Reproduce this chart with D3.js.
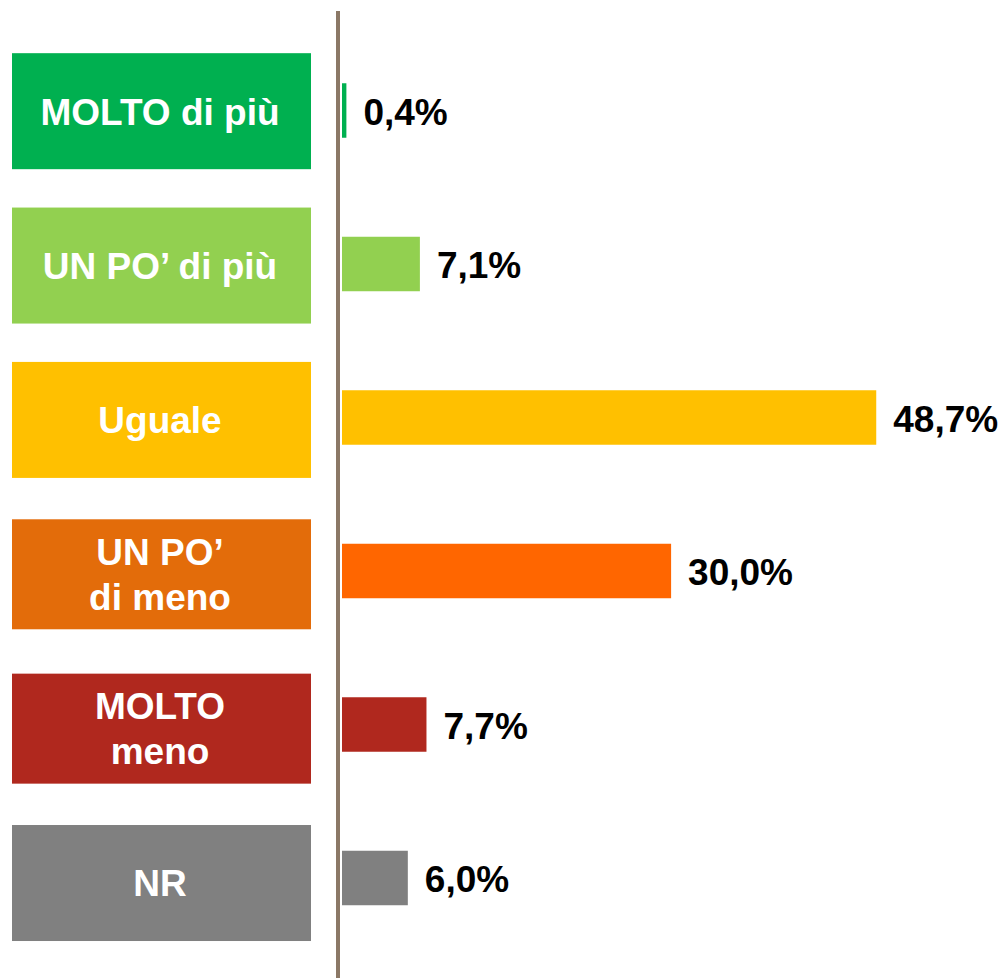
<!DOCTYPE html>
<meta charset="utf-8">
<title>MOLTO di più / meno</title>
<style>
body { margin: 0; background: #fff; }
svg { display: block; }
.box text, .value {
  font-family: "Liberation Sans", Arial, sans-serif;
  font-weight: bold;
  font-size: 37px;
}
.box text { fill: #fff; text-anchor: middle; }
.value { fill: #000; }
</style>
<svg id="chart" width="1001" height="978"></svg>
<script src="https://cdn.jsdelivr.net/npm/d3@7"></script>
<script>
// categories (each label is split into lines)
let categories = [
  ["MOLTO di più"],
  ["UN PO’ di più"],
  ["Uguale"],
  ["UN PO’", "di meno"],
  ["MOLTO", "meno"],
  ["NR"]
];
let values = [0.4, 7.1, 48.7, 30.0, 7.7, 6.0];
let valueLabels = ["0,4%", "7,1%", "48,7%", "30,0%", "7,7%", "6,0%"];
let boxColors = ["#00B050", "#92D050", "#FFC000", "#E36C0A", "#B0281E", "#808080"];
let barColors = ["#00B050", "#92D050", "#FFC000", "#FF6600", "#B0281E", "#808080"];

let svg = d3.select("#chart");
let idx = d3.range(values.length);

let x = d3.scaleLinear().domain([0, 50]).range([342, 890.5]);

// bars
let y = d3.scaleBand().domain(idx).range([33.75, 954.75])
    .paddingInner(0.645).paddingOuter(0.3225);

// category boxes on the left
let yBox = d3.scaleBand().domain(idx).range([34, 960.2]).padding(0);

let fontSize = 37;

let box = svg.selectAll(".box")
  .data(idx)
  .enter().append("g")
    .attr("class", "box");

box.append("rect")
    .attr("x", 12)
    .attr("width", 299)
    .attr("y", i => yBox(i) + yBox.bandwidth() / 2 - (categories[i].length > 1 ? 55 : 58))
    .attr("height", i => categories[i].length > 1 ? 110 : 116)
    .attr("fill", i => boxColors[i]);

box.each(function (i) {
  let lines = categories[i];
  let cy = yBox(i) + yBox.bandwidth() / 2;
  let lh = 45;
  let first = cy - (lines.length - 1) * lh / 2 + fontSize * 0.36;
  let t = d3.select(this).append("text");
  lines.forEach((l, k) => {
    t.append("tspan")
      .attr("x", 160)
      .attr("y", first + k * lh)
      .text(l);
  });
});

svg.selectAll(".bar")
  .data(idx)
  .enter().append("rect")
    .attr("class", "bar")
    .attr("x", x(0))
    .attr("y", i => y(i))
    .attr("width", i => x(values[i]) - x(0))
    .attr("height", y.bandwidth())
    .attr("fill", i => barColors[i]);

svg.selectAll(".value")
  .data(idx)
  .enter().append("text")
    .attr("class", "value")
    .attr("x", i => x(values[i]) + 17)
    .attr("y", i => y(i) + y.bandwidth() / 2 + fontSize * 0.38)
    .text(i => valueLabels[i]);

// vertical axis line
svg.append("line")
    .attr("x1", 338).attr("x2", 338)
    .attr("y1", 11).attr("y2", 978)
    .attr("stroke", "#8B7866")
    .attr("stroke-width", 4);
</script>
